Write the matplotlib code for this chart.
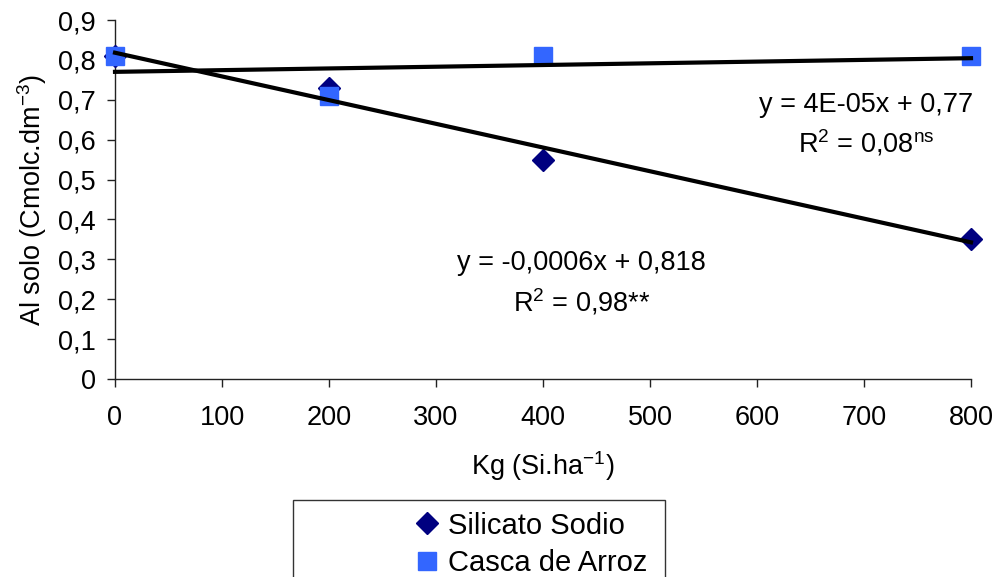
import numpy as np
import matplotlib
matplotlib.use('Agg')
import matplotlib.pyplot as plt
from matplotlib.patches import Rectangle

plt.rcParams['font.family'] = ['Liberation Sans', 'DejaVu Sans']
plt.rcParams['mathtext.fontset'] = 'custom'
plt.rcParams['mathtext.rm'] = 'Liberation Sans'
plt.rcParams['mathtext.it'] = 'Liberation Sans:italic'

# data
doses = [0, 200, 400, 800]
silicato = [0.81, 0.73, 0.55, 0.35]
casca = [0.81, 0.71, 0.81, 0.81]
x_ticks = [0, 100, 200, 300, 400, 500, 600, 700, 800]
y_ticks = [0, 0.1, 0.2, 0.3, 0.4, 0.5, 0.6, 0.7, 0.8, 0.9]
y_tick_labels = ['0', '0,1', '0,2', '0,3', '0,4', '0,5', '0,6', '0,7', '0,8', '0,9']

fig = plt.figure(figsize=(9.98, 5.77), dpi=100)
ax = fig.add_axes([115/998, 1-379/577, 856/998, 359/577])

ax.plot(doses, silicato, linestyle='none', marker='D', markersize=11,
        color='#000080', label='Silicato Sodio', zorder=3, clip_on=False)
ax.plot(doses, casca, linestyle='none', marker='s', markersize=13.5,
        color='#3366FF', label='Casca de Arroz', zorder=3, clip_on=False)

# linear trend lines
xs = np.array([0, 800])
for ys in (silicato, casca):
    a, b = np.polyfit(doses, ys, 1)
    ax.plot(xs, a*xs + b, color='black', linewidth=3, zorder=4, clip_on=False)

ax.set_xlim(0, 800)
ax.set_ylim(0, 0.9)
ax.set_xticks(x_ticks)
ax.set_yticks(y_ticks)
ax.set_yticklabels(y_tick_labels)
for s in ['top', 'right']:
    ax.spines[s].set_visible(False)
for s in ['left', 'bottom']:
    ax.spines[s].set_color('#222222')
    ax.spines[s].set_linewidth(1)
ax.tick_params(axis='both', direction='out', length=6, width=1, color='#222222', labelsize=19.5)
ax.tick_params(axis='x', pad=13)
ax.tick_params(axis='y', pad=8)

ax.set_xlabel('Kg (Si.ha$^{-1}$)', fontsize=19.5, labelpad=13)
ax.set_ylabel('Al solo (Cmolc.dm$^{-3}$)', fontsize=19.5, labelpad=6)

ax.text(702, 0.687, 'y = 4E-05x + 0,77', fontsize=19.5, ha='center', va='center')
ax.text(702, 0.592, 'R$^{2}$ = 0,08$^{\\mathrm{ns}}$', fontsize=19.5, ha='center', va='center')
ax.text(436, 0.291, 'y = -0,0006x + 0,818', fontsize=19.5, ha='center', va='center')
ax.text(436, 0.193, 'R$^{2}$ = 0,98**', fontsize=19.5, ha='center', va='center')

leg = fig.legend(loc='upper left', bbox_to_anchor=(401/998, 1-497/577), frameon=False,
                 fontsize=21, handlelength=0.8, handletextpad=0.3, borderpad=0,
                 labelspacing=0.33)
fig.patches.append(Rectangle((293/998, -0.05), 372/998, 0.05+1-500/577,
                             transform=fig.transFigure, fill=False,
                             edgecolor='#333333', linewidth=1))

fig.savefig('out.png', dpi=100)
